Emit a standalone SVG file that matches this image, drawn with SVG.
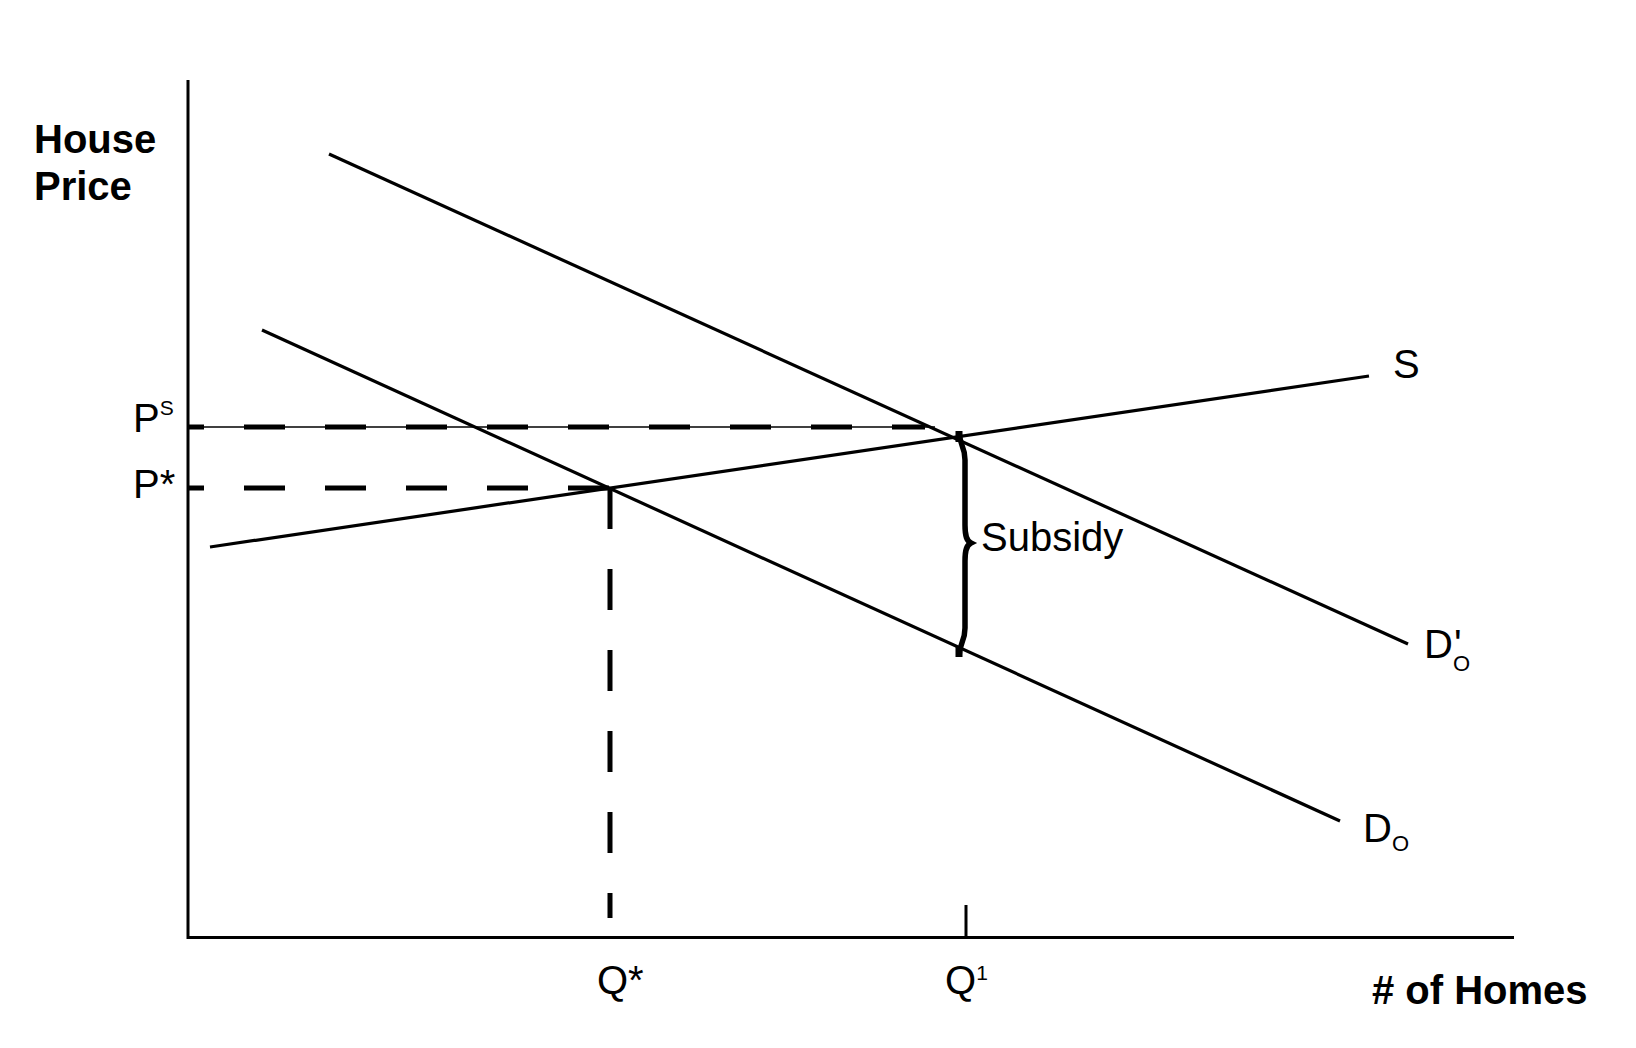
<svg xmlns="http://www.w3.org/2000/svg" width="1636" height="1048" viewBox="0 0 1636 1048">
<style>
.t{font-family:"Liberation Sans",Arial,sans-serif;fill:#000}
.b{font-weight:bold}
.ln{stroke:#000;stroke-width:3.2;fill:none}
.ax{stroke:#000;stroke-width:3;fill:none}
.ds{stroke:#000;stroke-width:5;fill:none;stroke-dasharray:41 40}
</style>
<rect width="1636" height="1048" fill="#fff"/>
<g id="axes">
<path class="ax" d="M188,80 V937.5 H1514"/>
<path class="ax" d="M966,905 V937"/>
</g>
<g id="connectors">
<path d="M188,427 H935" stroke="#000" stroke-width="1.5"/>
<path class="ds" d="M188,427 H925" stroke-dashoffset="25"/>
<path class="ds" d="M188,488 H610" stroke-dashoffset="25"/>
<path class="ds" d="M610,488 V918" stroke-dasharray="39 41"/>
</g>
<g id="curve-S"><path class="ln" d="M210,547 L1369,376"/></g>
<g id="curve-Do-prime"><path class="ln" d="M329,154 L1408,644"/></g>
<g id="curve-Do"><path class="ln" d="M262,330 L1340,821"/></g>
<g id="brace">
<path d="M959,431 C959,445 965,445 965,460 L965,525 C965,537 967,541 971,543 C967,545 965,549 965,561 L965,628 C965,643 959,643 959,657" stroke="#000" stroke-width="5.5" fill="none"/>
<path d="M959,431 V442 M959,646 V657" stroke="#000" stroke-width="7"/>
</g>
<g id="labels">
<text class="t b" x="34" y="153" font-size="40">House</text>
<text class="t b" x="34" y="200" font-size="40">Price</text>
<text class="t" x="133" y="432" font-size="40">P<tspan font-size="21" dy="-17">S</tspan></text>
<text class="t" x="133" y="498" font-size="40">P*</text>
<text class="t" x="597" y="994" font-size="40">Q*</text>
<text class="t" x="945" y="994" font-size="40">Q<tspan font-size="21" dy="-14">1</tspan></text>
<text class="t" x="1393" y="378" font-size="40">S</text>
<text class="t" x="981" y="551" font-size="40">Subsidy</text>
<text class="t" x="1424" y="658" font-size="40">D<tspan x="1454">'</tspan><tspan x="1453" dy="13" font-size="22">O</tspan></text>
<text class="t" x="1363" y="842" font-size="40">D<tspan x="1392" dy="9" font-size="22">O</tspan></text>
<text class="t b" x="1372" y="1004" font-size="40"># of Homes</text>
</g>
</svg>
